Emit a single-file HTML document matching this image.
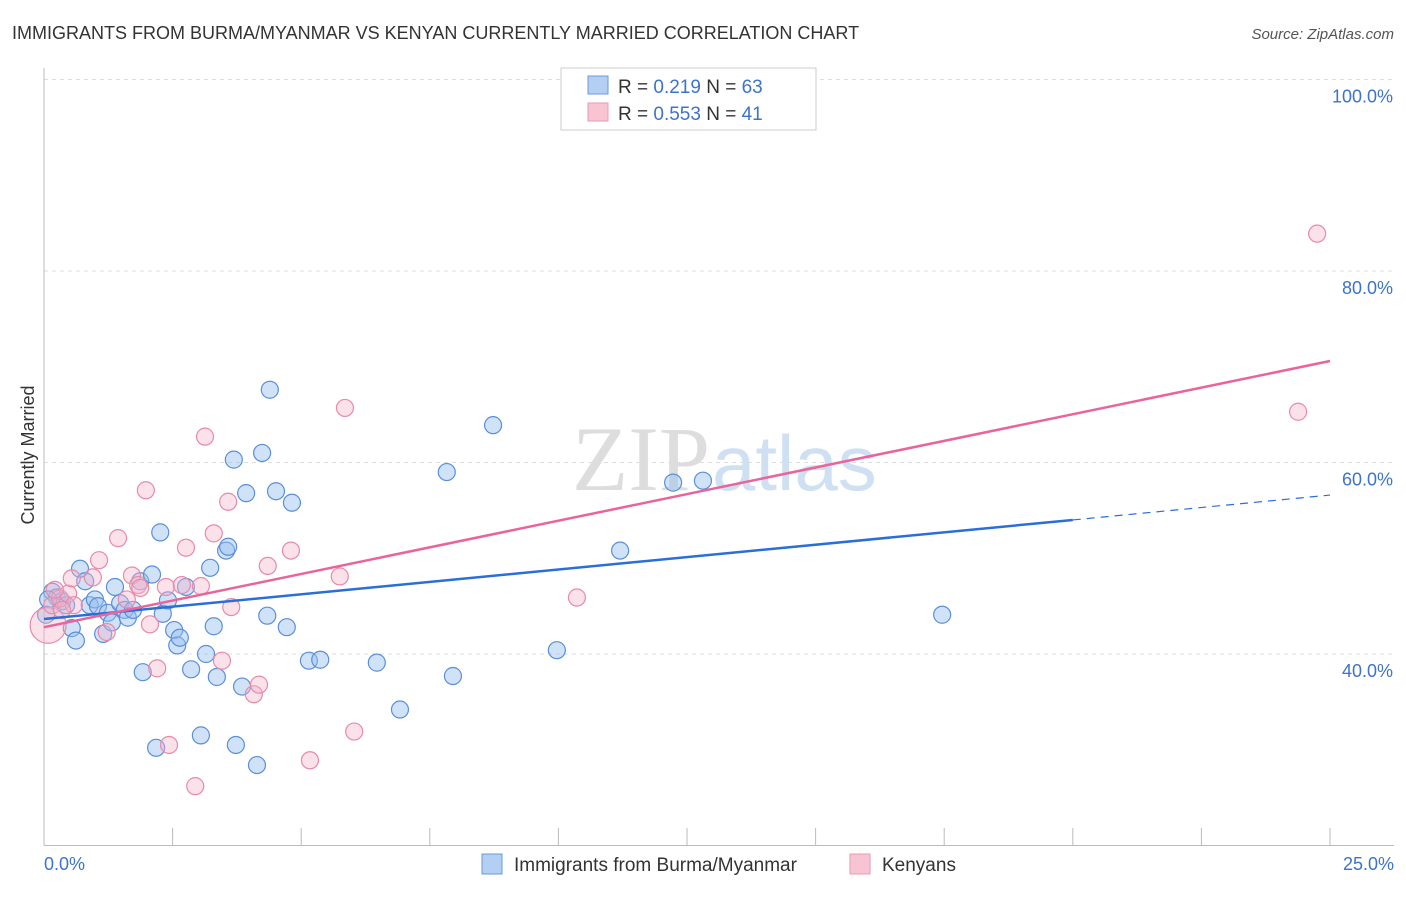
<!DOCTYPE html>
<html><head><meta charset="utf-8"><style>
body{margin:0;background:#fff;font-family:"Liberation Sans",sans-serif}
</style></head><body>
<svg width="1406" height="892" xmlns="http://www.w3.org/2000/svg" font-family="Liberation Sans, sans-serif">
<text x="12" y="39" font-size="18" fill="#333">IMMIGRANTS FROM BURMA/MYANMAR VS KENYAN CURRENTLY MARRIED CORRELATION CHART</text>
<text x="1394" y="39" font-size="15" fill="#555" font-style="italic" text-anchor="end">Source: ZipAtlas.com</text>
<g id="grid"></g>
<text x="710" y="490" font-size="92" fill="#ddd" text-anchor="end" font-family="Liberation Serif, serif">ZIP</text>
<text x="712" y="490" font-size="78" fill="#cfe0f3">atlas</text>
<text x="34" y="455" font-size="18" fill="#333" transform="rotate(-90 34 455)" text-anchor="middle">Currently Married</text>
<g id="marks"></g>
<g>
<rect x="561" y="68" width="255" height="62" fill="#fff" stroke="#ccc"/>
<rect x="588" y="76" width="20" height="18" fill="#b3cff4" stroke="#6a98db"/>
<rect x="588" y="103" width="20" height="18" fill="#f8c4d4" stroke="#e89ab3"/>
<text x="618" y="93" font-size="19" fill="#333">R = <tspan fill="#3d73c9">0.219</tspan>   N = <tspan fill="#3d73c9">63</tspan></text>
<text x="618" y="120" font-size="19" fill="#333">R = <tspan fill="#3d73c9">0.553</tspan>   N = <tspan fill="#3d73c9"> 41</tspan></text>
</g>
<g>
<rect x="482" y="854" width="20" height="20" fill="#b3cff4" stroke="#6a98db"/>
<text x="514" y="871" font-size="19" fill="#333">Immigrants from Burma/Myanmar</text>
<rect x="850" y="854" width="20" height="20" fill="#f8c4d4" stroke="#e89ab3"/>
<text x="882" y="871" font-size="19" fill="#333">Kenyans</text>
</g>
</svg>
<script>
const blueX=[.16,.25,.35,.54,.62,.70,.80,.89,.99,1.05,1.15,1.24,1.32,1.38,1.48,1.57,1.63,1.73,1.87,1.92,2.10,2.18,2.26,2.31,2.41,2.53,2.59,2.64,2.76,2.86,3.05,3.15,3.23,3.30,3.36,3.54,3.58,3.69,3.73,3.85,3.93,4.14,4.24,4.34,4.39,4.51,4.72,4.82,5.15,5.37,6.47,6.92,7.83,7.95,8.73,9.97,11.20,12.23,12.81,17.46,.08,.43,.04];
const blueY=[46.5,45.9,45.5,42.7,41.4,48.9,47.6,45.1,45.7,45.0,42.1,44.3,43.3,47.0,45.3,44.6,43.8,44.6,47.6,38.1,48.3,30.2,52.7,44.2,45.6,42.5,40.9,41.7,47.0,38.4,31.5,40.0,49.0,42.9,37.6,50.8,51.2,60.3,30.5,36.6,56.8,28.4,61.0,44.0,67.6,57.0,42.8,55.8,39.3,39.4,39.1,34.2,59.0,37.7,63.9,40.4,50.8,57.9,58.1,44.1,45.7,45.1,44.1];
const pinkX=[.08,.16,.31,.47,.58,.95,1.07,1.22,1.44,1.61,1.71,1.83,1.87,1.98,2.06,2.20,2.37,2.43,2.68,2.76,2.94,3.05,3.13,3.30,3.46,3.58,3.64,4.08,4.18,4.35,4.80,5.17,5.75,5.85,6.03,10.36,24.38,24.75,.54,.35,.21];
const pinkY=[43.0,45.1,45.8,46.3,45.1,48.0,49.8,42.3,52.1,45.7,48.2,47.2,46.9,57.1,43.1,38.5,47.0,30.5,47.2,51.1,26.2,47.1,62.7,52.6,39.3,55.9,44.9,35.8,36.8,49.2,50.8,28.9,48.1,65.7,31.9,45.9,65.3,83.9,47.9,44.6,46.7];
const blueTrend=[43.65,54.0,56.6]; // at x=0,20,25
const pinkTrend=[42.8,70.6]; // at x=0,25
const yTicks=[40,60,80,100];
const xTickVals=[0,2.5,5,7.5,10,12.5,15,17.5,20,22.5,25];
const NS='http://www.w3.org/2000/svg';
const sx=v=>44+v/25*1286, sy=v=>845.5-(v-20)/20*191.5;
function mk(t,a,p){const e=document.createElementNS(NS,t);for(const k in a)e.setAttribute(k,a[k]);p.appendChild(e);return e;}
const grid=document.getElementById('grid'), marks=document.getElementById('marks');
yTicks.forEach(v=>{
 const l=mk('line',{x1:44,x2:1394,y1:sy(v),y2:sy(v),stroke:'#ddd','stroke-dasharray':'4 4'},grid);
 
 
 const t=mk('text',{x:1393,y:sy(v)+23,'font-size':18,fill:'#3d73c9','text-anchor':'end'},grid);
 t.textContent=v.toFixed(1)+'%';
 
 
});
const ax=mk('line',{x1:44,x2:1394,y1:845.5,y2:845.5,stroke:'#bbb'},grid);


const ay=mk('line',{x1:44,x2:44,y1:68,y2:845.5,stroke:'#bbb'},grid);


xTickVals.forEach(v=>{
 const l=mk('line',{x1:sx(v),x2:sx(v),y1:828,y2:845.5,stroke:'#bbb'},grid);
 
 
});
[[0,'0.0%','start',44],[25,'25.0%','end',1394]].forEach(d=>{
 const t=mk('text',{x:d[3],y:870,'font-size':18,fill:'#3d73c9','text-anchor':d[2]},grid);
 t.textContent=d[1];
 
 
});
blueX.forEach((x,i)=>{
 const c=mk('circle',{cx:sx(x),cy:sy(blueY[i]),r:8.5,fill:'rgba(150,190,240,0.45)',stroke:'#5b8fd9','stroke-width':1.2},marks);
 
 
});
pinkX.forEach((x,i)=>{
 const c=mk('circle',{cx:sx(x),cy:sy(pinkY[i]),r:i==0?18:8.5,fill:'rgba(246,180,203,0.4)',stroke:'#e88aa8','stroke-width':1.2},marks);
 
 
});
let l=mk('line',{x1:sx(0),y1:sy(blueTrend[0]),x2:sx(20),y2:sy(blueTrend[1]),stroke:'#2a6fd6','stroke-width':2.5},marks);


l=mk('line',{x1:sx(20),y1:sy(blueTrend[1]),x2:sx(25),y2:sy(blueTrend[2]),stroke:'#2a6fd6','stroke-width':1.2,'stroke-dasharray':'8 6'},marks);


l=mk('line',{x1:sx(0),y1:sy(pinkTrend[0]),x2:sx(25),y2:sy(pinkTrend[1]),stroke:'#e8649a','stroke-width':2.5},marks);


</script>
</body></html>
